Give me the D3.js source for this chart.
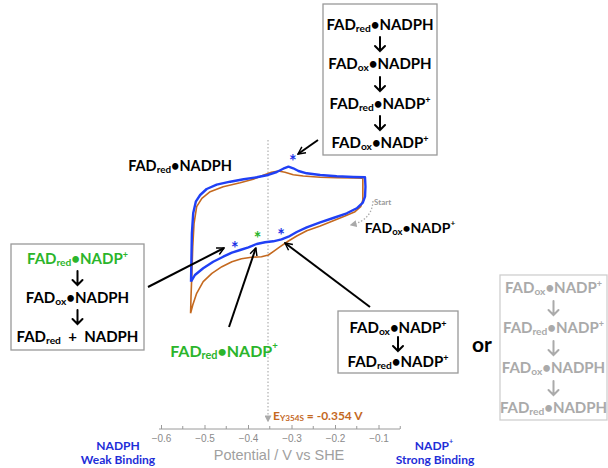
<!DOCTYPE html>
<html><head><meta charset="utf-8">
<script src="https://cdn.jsdelivr.net/npm/d3@7"></script>
<style>body{margin:0;background:#fff}svg{display:block}</style>
</head><body>
<svg id="c" width="608" height="468"></svg>
<script>
// ---------- data ----------
const potentialTicks = [-0.6, -0.5, -0.4, -0.3, -0.2, -0.1];
const minorTicks = [-0.55, -0.45, -0.35, -0.25, -0.15, -0.05];
const E_Y354S = -0.354;

// blue trace (potential V, current arbitrary units)
const blueV = [-0.531,-0.530,-0.529,-0.526,-0.520,-0.510,-0.495,-0.472,-0.441,-0.410,-0.380,-0.357,-0.334,-0.319,-0.307,-0.296,-0.284,-0.265,-0.234,-0.196,-0.158,-0.131,
  -0.130,-0.131,-0.136,-0.150,-0.173,-0.204,-0.234,-0.265,-0.288,-0.307,-0.323,-0.342,-0.361,-0.380,-0.399,-0.418,-0.437,-0.457,-0.480,-0.503,-0.522,-0.531];
const blueI = [-0.834,-0.334,0.134,0.534,0.766,0.900,1.020,1.106,1.166,1.214,1.254,1.294,1.360,1.426,1.466,1.434,1.380,1.334,1.300,1.274,1.260,1.254,
  1.066,0.866,0.746,0.634,0.534,0.440,0.354,0.254,0.160,0.066,0.014,-0.026,-0.046,-0.080,-0.146,-0.200,-0.254,-0.334,-0.434,-0.566,-0.700,-0.834];

// orange trace
const orangeV = [-0.532,-0.531,-0.529,-0.527,-0.524,-0.518,-0.506,-0.487,-0.457,-0.418,-0.388,-0.365,-0.346,-0.330,-0.315,-0.296,-0.273,-0.234,-0.196,-0.158,-0.136,
  -0.136,-0.136,-0.141,-0.154,-0.177,-0.204,-0.234,-0.265,-0.288,-0.307,-0.326,-0.342,-0.353,-0.369,-0.392,-0.415,-0.437,-0.460,-0.483,-0.503,-0.518,-0.527,-0.532];
const orangeI = [-1.466,-1.134,-0.666,-0.134,0.334,0.666,0.834,0.966,1.066,1.146,1.214,1.294,1.354,1.380,1.354,1.306,1.280,1.254,1.246,1.240,1.234,
  1.000,0.800,0.666,0.566,0.480,0.386,0.280,0.186,0.080,-0.020,-0.134,-0.234,-0.300,-0.334,-0.346,-0.374,-0.434,-0.534,-0.666,-0.834,-1.066,-1.300,-1.466];

// asterisk markers [V, I, colour]
const starV = [-0.297, -0.430, -0.378, -0.324];
const starI = [1.60, -0.134, 0.066, 0.114];
const starC = ["#1d35e6", "#1d35e6", "#2bb52b", "#1d35e6"];

// text
const topBox = ["FAD_{red}•NADPH", "FAD_{ox}•NADPH", "FAD_{red}•NADP^{+}", "FAD_{ox}•NADP^{+}"];
const leftBox = ["FAD_{red}•NADP^{+}", "FAD_{ox}•NADPH", "FAD_{red}  +  NADPH"];
const brBox = ["FAD_{ox}•NADP^{+}", "FAD_{red}•NADP^{+}"];
const grayBox = ["FAD_{ox}•NADP^{+}", "FAD_{red}•NADP^{+}", "FAD_{ox}•NADPH", "FAD_{red}•NADPH"];

// ---------- drawing ----------
const svg = d3.select("#c");
svg.append("rect").attr("width",608).attr("height",468).attr("fill","#fff");

const x = d3.scaleLinear().domain([-0.6, -0.05]).range([161, 400.25]);
const y = d3.scaleLinear().domain([-2, 2]).range([340, 140]);

const defs = svg.append("defs");
defs.append("marker").attr("id","ah").attr("viewBox","0 0 10 10").attr("refX",9).attr("refY",5)
  .attr("markerWidth",9).attr("markerHeight",9).attr("markerUnits","userSpaceOnUse").attr("orient","auto")
  .append("path").attr("d","M1,1 L9,5 L1,9").attr("fill","none").attr("stroke","#000").attr("stroke-width",1.6);
defs.append("marker").attr("id","gah").attr("viewBox","0 0 10 10").attr("refX",8).attr("refY",5)
  .attr("markerWidth",7).attr("markerHeight",7).attr("markerUnits","userSpaceOnUse").attr("orient","auto")
  .append("path").attr("d","M0,0 L10,5 L0,10 Z").attr("fill","#aaa");

function rich(sel, str, size){
  const parts = str.split(/(_\{[^}]*\}|\^\{[^}]*\})/).filter(s=>s.length);
  let shift = 0;
  parts.forEach(p=>{
    let t = p, dy = 0, fs = size;
    if (p.startsWith("_{")) { t = p.slice(2,-1); fs = size*0.68; dy = size*0.28; }
    else if (p.startsWith("^{")) { t = p.slice(2,-1); fs = size*0.6; dy = -size*0.3; }
    const ts = sel.append("tspan").attr("font-size", fs).attr("xml:space","preserve").text(t);
    const d = dy - shift;
    if (d !== 0) ts.attr("dy", d);
    shift = dy;
  });
  return sel;
}
function label(g, str, cx, cy, size, color, anchor){
  const t = g.append("text").attr("x",cx).attr("y",cy).attr("text-anchor",anchor||"middle")
    .attr("font-family","Lato, 'Open Sans', sans-serif").attr("font-weight","bold")
    .attr("font-size",size).attr("fill",color).attr("dominant-baseline","central")
    .style("white-space","pre");
  rich(t, str, size);
  return t;
}
function downArrow(g, cx, cy, color){
  g.append("path").attr("d",`M${cx},${cy-7} L${cx},${cy+7} M${cx-5},${cy+2} L${cx},${cy+7} L${cx+5},${cy+2}`)
   .attr("fill","none").attr("stroke",color).attr("stroke-width",2).attr("stroke-linecap","round");
}
function box(g, x0, y0, w, h, rows, rowY, arrowY, color, stroke, colors, size){
  g.append("rect").attr("x",x0).attr("y",y0).attr("width",w).attr("height",h)
   .attr("fill","#fff").attr("stroke",stroke).attr("stroke-width",1.3);
  const cx = x0 + w/2;
  rows.forEach((r,i)=> label(g, r, cx, rowY[i], size, colors ? colors[i] : color));
  arrowY.forEach(a=> downArrow(g, cx, a, color));
}

// dotted E line
svg.append("line").attr("x1",x(E_Y354S)).attr("x2",x(E_Y354S)).attr("y1",140).attr("y2",421)
  .attr("stroke","#b5b5b5").attr("stroke-width",1.3).attr("stroke-dasharray","1.5,2").attr("marker-end","url(#gah)");

// traces
const line = d3.line().x(d=>x(d[0])).y(d=>y(d[1]));
svg.append("path").datum(orangeV.map((v,i)=>[v,orangeI[i]])).attr("d",line)
  .attr("fill","none").attr("stroke","#c4691f").attr("stroke-width",1.6).attr("stroke-linejoin","round");
svg.append("path").datum(blueV.map((v,i)=>[v,blueI[i]])).attr("d",line)
  .attr("fill","none").attr("stroke","#2040f5").attr("stroke-width",2.4).attr("stroke-linejoin","round");

// asterisks
starV.forEach((v,i)=>{
  svg.append("text").attr("x",x(v)).attr("y",y(starI[i])+8).attr("text-anchor","middle")
    .attr("font-family","Lato, sans-serif").attr("font-weight","bold").attr("font-size",18)
    .attr("fill",starC[i]).text("*");
});

// axis
const ax = svg.append("g").attr("transform","translate(0,429)");
ax.append("line").attr("x1",159).attr("x2",400).attr("stroke","#9a9a9a").attr("stroke-width",1);
ax.call(g=>{
  const a = d3.axisBottom(x).tickValues(potentialTicks).tickSize(-4).tickPadding(6).tickFormat(d3.format(".1f"));
  g.call(a);
  g.select(".domain").remove();
  g.selectAll(".tick line").attr("stroke","#9a9a9a");
  g.selectAll(".tick text").attr("fill","#8a8a8a").attr("font-family","'Liberation Sans', Arial, sans-serif").attr("font-size",10);
});
minorTicks.forEach(v=> ax.append("line").attr("x1",x(v)).attr("x2",x(v)).attr("y1",0).attr("y2",-3).attr("stroke","#9a9a9a"));
svg.append("text").attr("x",279).attr("y",455).attr("text-anchor","middle")
  .attr("font-family","'Liberation Sans', Arial, sans-serif").attr("font-size",14.5).attr("fill","#a0a0a0")
  .attr("dominant-baseline","central").text("Potential / V vs SHE");

// E label
label(svg, "E_{Y354S} = -0.354 V", 273, 415, 12, "#c4691f", "start");

// binding labels
const blue = "#1e2ed8";
label(svg, "NADPH", 118, 445, 12, blue);
label(svg, "Weak Binding", 118, 459, 12, blue);
label(svg, "NADP^{+}", 434, 445, 12, blue);
label(svg, "Strong Binding", 435, 459, 12, blue);

// boxes
const g = svg.append("g");
box(g, 323, 4, 114, 151, topBox, [24,63,103,142], [44,84,123], "#000", "#999", null, 15);
box(g, 11, 244, 133, 106, leftBox, [258,297,336], [278,317], "#000", "#999", ["#2bb52b","#000","#000"], 15);
box(g, 338, 311, 120, 62, brBox, [327,361], [344], "#000", "#999", null, 15);
box(g, 500, 275, 107, 145, grayBox, [287,327,367,407], [308,348,388], "#aaa", "#cfcfcf", null, 15);

// free labels
label(svg, "FAD_{red}•NADPH", 180, 165, 14.5, "#000");
label(svg, "FAD_{ox}•NADP^{+}", 410, 227, 14, "#000");
label(svg, "FAD_{red}•NADP^{+}", 224, 350, 16, "#2bb52b");
svg.append("text").attr("x",482).attr("y",343).attr("text-anchor","middle").attr("dominant-baseline","central")
  .attr("font-family","Lato, sans-serif").attr("font-weight","bold").attr("font-size",21).text("or");

// start annotation
svg.append("path").attr("d","M373,201 Q372,220 351,225").attr("fill","none").attr("stroke","#aaa")
  .attr("stroke-width",1.3).attr("stroke-dasharray","1.5,1.8").attr("marker-end","url(#gah)");
svg.append("text").attr("x",374).attr("y",205).attr("font-family","Lato, sans-serif").attr("font-size",8)
  .attr("fill","#999").attr("font-weight","bold").text("Start");

// black pointer arrows (tails near boxes, tips on traces)
const arrows = [
  [318, 140, -0.285, 1.72],
  [148, 287, -0.455, -0.16],
  [229, 327, -0.382, -0.16],
  [370, 307, -0.315, -0.06]
];
arrows.forEach(a=>{
  svg.append("line").attr("x1",a[0]).attr("y1",a[1]).attr("x2",x(a[2])).attr("y2",y(a[3]))
    .attr("stroke","#000").attr("stroke-width",2).attr("marker-end","url(#ah)");
});
</script>
</body></html>
